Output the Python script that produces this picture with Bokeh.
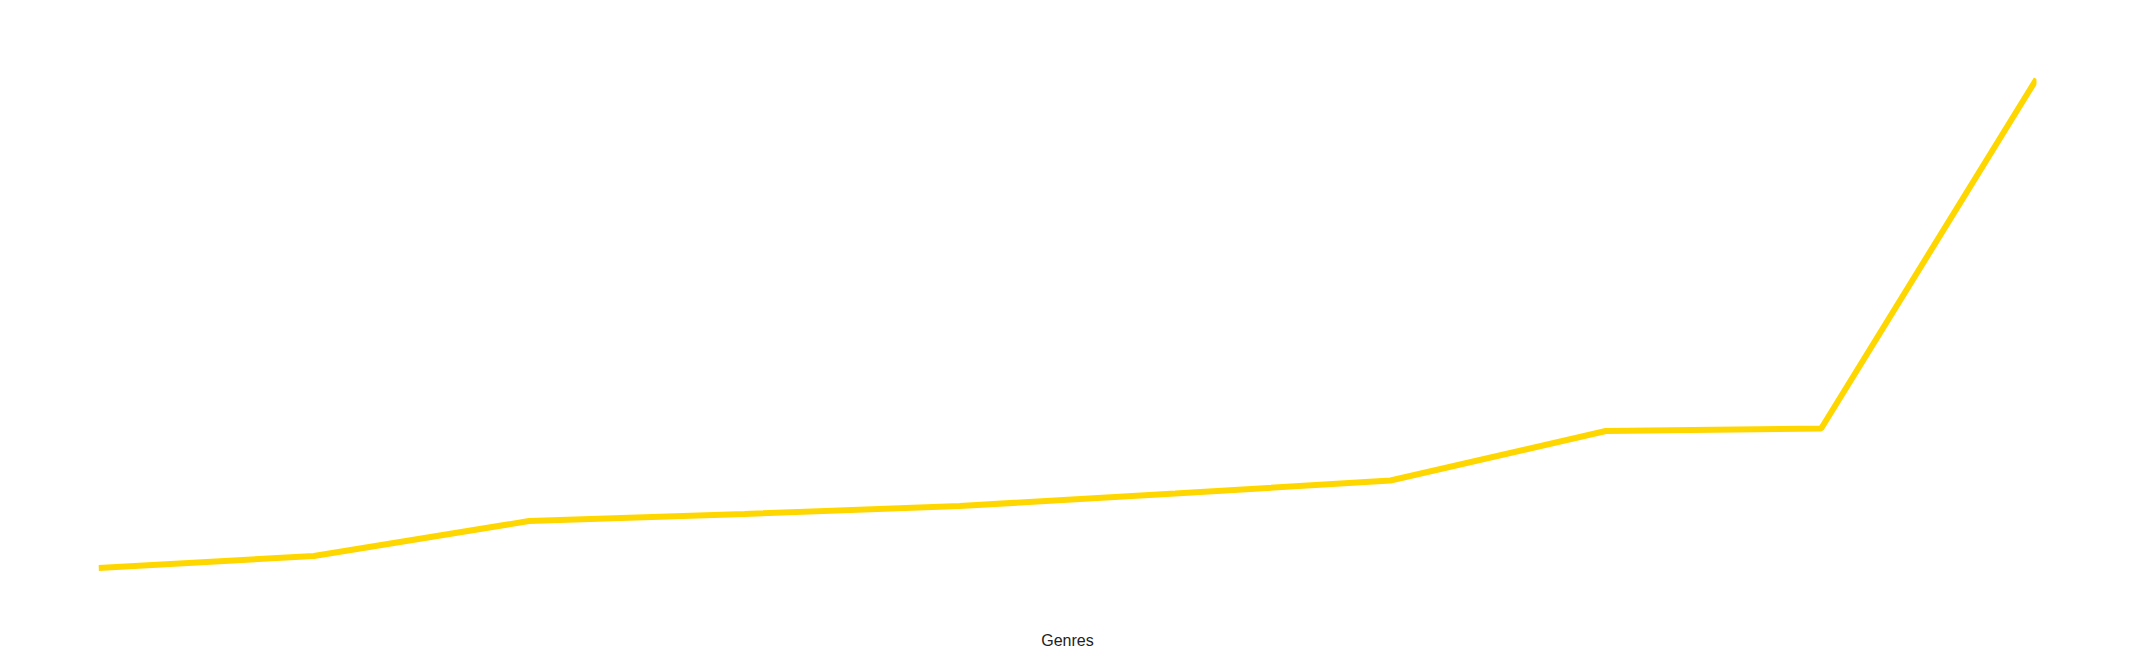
from bokeh.plotting import figure
from bokeh.models import Range1d, FixedTicker
from bokeh.embed import file_html
from bokeh.resources import INLINE

# Genre index (sorted ascending by value) and values
genre_index = [0, 1, 2, 3, 4, 5, 6, 7, 8, 9]
counts = [65, 89, 159, 173, 189, 214, 240, 339, 344, 1043]

p = figure(width=2126, height=654, output_backend="svg", toolbar_location=None,
           x_range=Range1d(0, 9), y_range=Range1d(-40, 1160),
           min_border_left=98, min_border_right=90, min_border_top=20,
           min_border_bottom=34)

p.line(genre_index, counts, line_color="#FFD700", line_width=6)

p.yaxis.visible = False
p.xgrid.visible = False
p.ygrid.visible = False
p.outline_line_color = None

ax = p.xaxis[0]
ax.ticker = FixedTicker(ticks=[])
ax.axis_line_color = None
ax.major_tick_line_color = None
ax.minor_tick_line_color = None
ax.major_tick_out = 0
ax.major_tick_in = 0
ax.minor_tick_out = 0
ax.major_label_text_font_size = "0px"
ax.axis_label = "Genres"
ax.axis_label_text_font = "Liberation Sans"
ax.axis_label_text_font_style = "normal"
ax.axis_label_text_font_size = "16px"
ax.axis_label_text_color = "#222222"
ax.axis_label_standoff = 11

open("out.html", "w").write(file_html(p, INLINE))
